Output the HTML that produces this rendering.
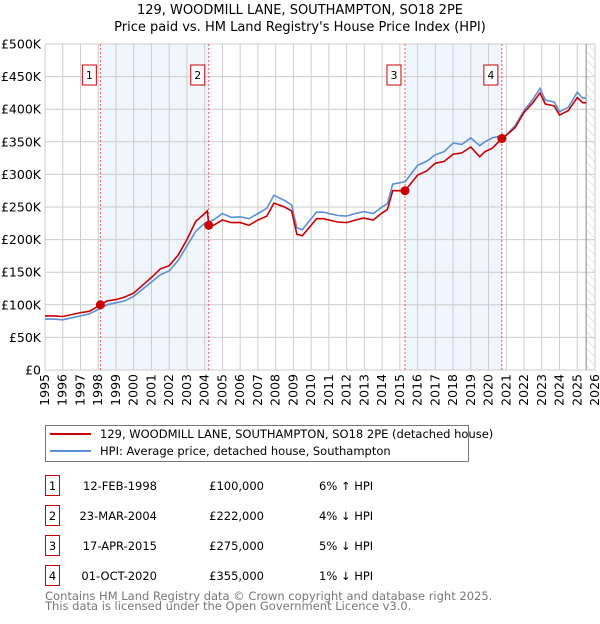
<!DOCTYPE html>
<html><head><meta charset="utf-8"><style>
body{margin:0;width:600px;height:620px;background:#fff;font-family:"DejaVu Sans","Liberation Sans",sans-serif;overflow:hidden}
svg text{font-family:"DejaVu Sans","Liberation Sans",sans-serif}
</style></head><body>
<svg id="c" width="600" height="620" xmlns="http://www.w3.org/2000/svg"></svg>
<script>
const hpiDates=[1995,1995.5,1996,1996.5,1997,1997.5,1998,1998.5,1999,1999.5,2000,2000.5,2001,2001.5,2002,2002.5,2003,2003.5,2004,2004.5,2005,2005.5,2006,2006.5,2007,2007.5,2007.9,2008.5,2008.9,2009.2,2009.5,2010,2010.3,2010.7,2011,2011.5,2012,2012.5,2012.95,2013.5,2014,2014.3,2014.6,2015.3,2016,2016.5,2017,2017.5,2018,2018.5,2019,2019.5,2019.8,2020.2,2020.7,2021,2021.5,2022,2022.5,2022.9,2023.2,2023.7,2024,2024.5,2025,2025.3,2025.5];
const hpiValues=[78,78,77,80,83,86,93,100,103,106,113,124,135,146,152,168,190,213,225,230,240,234,235,232,240,248,268,260,253,218,215,232,242,242,240,237,236,240,243,240,250,255,285,289,314,320,330,335,348,346,356,344,350,356,359,360,375,398,415,432,414,411,396,403,426,417,417];
const priceDates=[1995,1995.5,1996,1996.5,1997,1997.5,1998.12,1998.5,1999,1999.5,2000,2000.5,2001,2001.5,2002,2002.5,2003,2003.5,2004,2004.15,2004.23,2004.5,2005,2005.5,2006,2006.5,2007,2007.5,2007.9,2008.5,2008.9,2009.2,2009.5,2010,2010.3,2010.7,2011,2011.5,2012,2012.5,2012.95,2013.5,2014,2014.3,2014.6,2015.29,2016,2016.5,2017,2017.5,2018,2018.5,2019,2019.5,2019.8,2020.2,2020.75,2021,2021.5,2022,2022.5,2022.9,2023.2,2023.7,2024,2024.5,2025,2025.3,2025.5];
const priceValues=[83,83,82,85,88,90,100,106,108,112,118,130,142,155,160,176,200,228,240,244,222,222,230,226,226,222,230,236,256,250,244,208,206,222,232,232,230,227,226,230,233,230,241,246,275,275,299,305,317,320,331,333,342,327,335,340,355,360,372,395,410,425,408,405,391,398,418,410,410];
const saleDates=[1998.12,2004.23,2015.29,2020.75];
const saleValues=[100,222,275,355];
const saleLabels=["1","2","3","4"];
const yTicks=[0,50,100,150,200,250,300,350,400,450,500];
const yTickLabels=["£0","£50K","£100K","£150K","£200K","£250K","£300K","£350K","£400K","£450K","£500K"];
const xYears=[1995,1996,1997,1998,1999,2000,2001,2002,2003,2004,2005,2006,2007,2008,2009,2010,2011,2012,2013,2014,2015,2016,2017,2018,2019,2020,2021,2022,2023,2024,2025,2026];

const svg=document.getElementById('c');const NS="http://www.w3.org/2000/svg";
const L=45,R=595,T=44,B=370;
const xs=d=>L+(d-1995)/(2026-1995)*(R-L);
const ys=v=>B-v/500*(B-T);
function mk(tag,attrs,name,text){const e=document.createElementNS(NS,tag);for(const k in attrs)e.setAttribute(k,attrs[k]);


if(text!==undefined)e.textContent=text;svg.appendChild(e);return e;}
mk('text',{x:300,y:14,'text-anchor':'middle','font-size':13},'chart-title','129, WOODMILL LANE, SOUTHAMPTON, SO18 2PE');
mk('text',{x:300,y:31,'text-anchor':'middle','font-size':13},'chart-subtitle',"Price paid vs. HM Land Registry's House Price Index (HPI)");
mk('rect',{x:xs(saleDates[0]),y:T,width:xs(saleDates[1])-xs(saleDates[0]),height:B-T,fill:'#eef3fc',opacity:0.8},'shade-1-2');
mk('rect',{x:xs(saleDates[2]),y:T,width:xs(saleDates[3])-xs(saleDates[2]),height:B-T,fill:'#eef3fc',opacity:0.8},'shade-3-4');
const defs=document.createElementNS(NS,'defs');defs.innerHTML='<pattern id="h" width="6" height="6" patternUnits="userSpaceOnUse" patternTransform="rotate(-45)"><line x1="0" y1="0" x2="0" y2="6" stroke="#ccc" stroke-width="1"/></pattern>';svg.appendChild(defs);
mk('rect',{x:xs(2025.5),y:T,width:R-xs(2025.5),height:B-T,fill:'url(#h)'},'future-hatch');
xYears.forEach(y=>{mk('line',{x1:xs(y),x2:xs(y),y1:T,y2:B,stroke:'#ccc','stroke-width':1},'x-grid-line');
mk('text',{x:0,y:0,'font-size':12.5,transform:`translate(${xs(y)+4},${B+4}) rotate(-90)`,'text-anchor':'end'},'x-tick-label',String(y));});
yTicks.forEach((v,i)=>{mk('line',{x1:L,x2:R,y1:ys(v),y2:ys(v),stroke:'#ccc','stroke-width':1},'y-grid-line');
mk('text',{x:L-4,y:ys(v)+4.5,'font-size':12.5,'text-anchor':'end'},'y-tick-label',yTickLabels[i]);});
mk('line',{x1:xs(2025.5),x2:xs(2025.5),y1:T,y2:B,stroke:'#888','stroke-width':1},'today-line');
saleDates.forEach((d,i)=>{mk('line',{x1:xs(d),x2:xs(d),y1:T,y2:B,stroke:'#e55','stroke-width':1,'stroke-dasharray':'2,2'},'sale-marker-line');
mk('rect',{x:xs(d)-18,y:65,width:14,height:20,fill:'#fff',stroke:'#c00'},'sale-label-box');
mk('text',{x:xs(d)-11,y:79,'text-anchor':'middle','font-size':11},'sale-label',saleLabels[i]);});
const pts=(ds,vs)=>ds.map((d,i)=>xs(d).toFixed(1)+','+ys(vs[i]).toFixed(1)).join(' ');
mk('polyline',{points:pts(hpiDates,hpiValues),fill:'none',stroke:'#5b8fd4','stroke-width':1.6},'hpi-line');
mk('polyline',{points:pts(priceDates,priceValues),fill:'none',stroke:'#cc0000','stroke-width':1.6},'price-line');
saleDates.forEach((d,i)=>mk('circle',{cx:xs(d),cy:ys(saleValues[i]),r:4.5,fill:'#cc0000'},'sale-point'));
mk('rect',{x:45.5,y:425.5,width:423,height:36,fill:'#fff',stroke:'#777'},'legend');
mk('line',{x1:50,x2:91,y1:434,y2:434,stroke:'#cc0000','stroke-width':2},'legend-swatch-price');
mk('text',{x:100,y:438,'font-size':11.5},'legend-entry-price','129, WOODMILL LANE, SOUTHAMPTON, SO18 2PE (detached house)');
mk('line',{x1:50,x2:91,y1:451,y2:451,stroke:'#5b8fd4','stroke-width':2},'legend-swatch-hpi');
mk('text',{x:100,y:455,'font-size':11.5},'legend-entry-hpi','HPI: Average price, detached house, Southampton');
const tDates=["12-FEB-1998","23-MAR-2004","17-APR-2015","01-OCT-2020"];
const tPrices=["£100,000","£222,000","£275,000","£355,000"];
const tHpi=["6% ↑ HPI","4% ↓ HPI","5% ↓ HPI","1% ↓ HPI"];
for(let i=0;i<4;i++){const y=475+i*30;
mk('rect',{x:45.5,y:y+0.5,width:14,height:20,fill:'#fff',stroke:'#c00'},'table-num-box');
mk('text',{x:52.5,y:y+15,'text-anchor':'middle','font-size':11.5},'table-num',String(i+1));
mk('text',{x:157,y:y+15,'text-anchor':'end','font-size':11.5},'table-date',tDates[i]);
mk('text',{x:264,y:y+15,'text-anchor':'end','font-size':11.5},'table-price',tPrices[i]);
mk('text',{x:319,y:y+15,'font-size':11.5},'table-hpi',tHpi[i]);}
mk('text',{x:45,y:600,'font-size':11.5,fill:'#777'},'footer-line-1','Contains HM Land Registry data © Crown copyright and database right 2025.');
mk('text',{x:45,y:610,'font-size':11.5,fill:'#777'},'footer-line-2','This data is licensed under the Open Government Licence v3.0.');
</script>
</body></html>
